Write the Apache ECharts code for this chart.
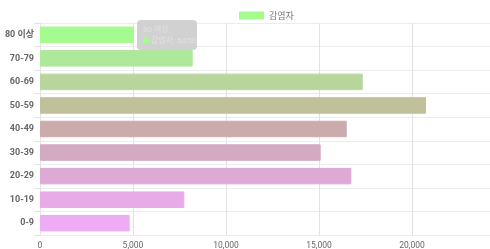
<!DOCTYPE html>
<html>
<head>
<meta charset="utf-8">
<script src="https://cdn.jsdelivr.net/npm/echarts@6/dist/echarts.min.js"></script>
<style>
html, body { margin: 0; padding: 0; background: #fff; overflow: hidden; }
#chart { width: 490px; height: 249px; }
</style>
</head>
<body>
<div id="chart"></div>
<script>
// 연령대별 감염자
var ageGroups = ['0-9', '10-19', '20-29', '30-39', '40-49', '50-59', '60-69', '70-79', '80 이상'];
var infected = [4820, 7760, 16740, 15090, 16490, 20750, 17350, 8210, 5050];
var barColors = ['#eeabf6', '#e7ace8', '#dcaad5', '#d4aac2', '#cbabab', '#c0c09a', '#b8d69c', '#aee89a', '#a6fb8e'];
var xTicks = [0, 5000, 10000, 15000, 20000, 25000];

function fmt(v) {
    return v.toString().replace(/\B(?=(\d{3})+(?!\d))/g, ',');
}

var myChart = echarts.init(document.getElementById('chart'));

var barData = [];
for (var i = 0; i < infected.length; i++) {
    barData.push({
        value : infected[i],
        itemStyle : {color : barColors[i], borderColor : barColors[i], borderWidth : 1}
    });
}

var options = {
    animation : false,
    textStyle : {fontFamily : 'Roboto, "Noto Sans CJK KR", sans-serif'},
    legend : {
        top : 6,
        left : 234,
        itemWidth : 25,
        itemHeight : 8,
        itemGap : 4,
        icon : 'rect',
        textStyle : {fontSize : 9, color : '#777', fontFamily : '"Noto Sans CJK KR", sans-serif'},
        data : ['감염자']
    },
    tooltip : {
        trigger : 'item',
        transitionDuration : 0,
        backgroundColor : 'rgba(205,205,205,0.92)',
        borderWidth : 0,
        padding : [4, 6],
        extraCssText : 'border-radius:4px;box-shadow:none;width:48px;',
        position : function () { return [137, 20]; },
        formatter : function (p) {
            return '<div style="font-size:8px;line-height:11px;color:#e2e2e2;font-family:Roboto,\'Noto Sans CJK KR\';white-space:nowrap">' +
                ageGroups[p.dataIndex] + '<br>' +
                '<span style="display:inline-block;width:6px;height:6px;background:' + barColors[p.dataIndex] + ';margin-right:2px"></span>' +
                '감염자: ' + fmt(p.value) + '</div>';
        }
    },
    grid : {left : 40, width : 465, top : 23, bottom : 14, outerBoundsMode : 'none', containLabel : false},
    xAxis : {
        type : 'value',
        min : xTicks[0],
        max : xTicks[xTicks.length - 1],
        interval : 5000,
        axisLine : {show : false},
        axisTick : {show : false},
        axisLabel : {fontSize : 8.5, color : '#666', margin : 7, formatter : fmt},
        splitLine : {lineStyle : {color : '#e2e2e2'}}
    },
    yAxis : {
        type : 'category',
        data : ageGroups,
        axisLine : {show : true, lineStyle : {color : '#e4e4e4'}},
        axisTick : {show : true, length : 6, lineStyle : {color : '#e4e4e4'}},
        axisLabel : {fontSize : 9, color : '#666', fontWeight : 'bold', margin : 6},
        splitLine : {show : true, lineStyle : {color : '#ececec'}}
    },
    series : [{
        name : '감염자',
        type : 'bar',
        barWidth : '70%',
        itemStyle : {color : '#a6fb8e'},
        data : barData
    }]
};

myChart.setOption(options);
myChart.dispatchAction({type : 'showTip', seriesIndex : 0, dataIndex : 8});
</script>
</body>
</html>
